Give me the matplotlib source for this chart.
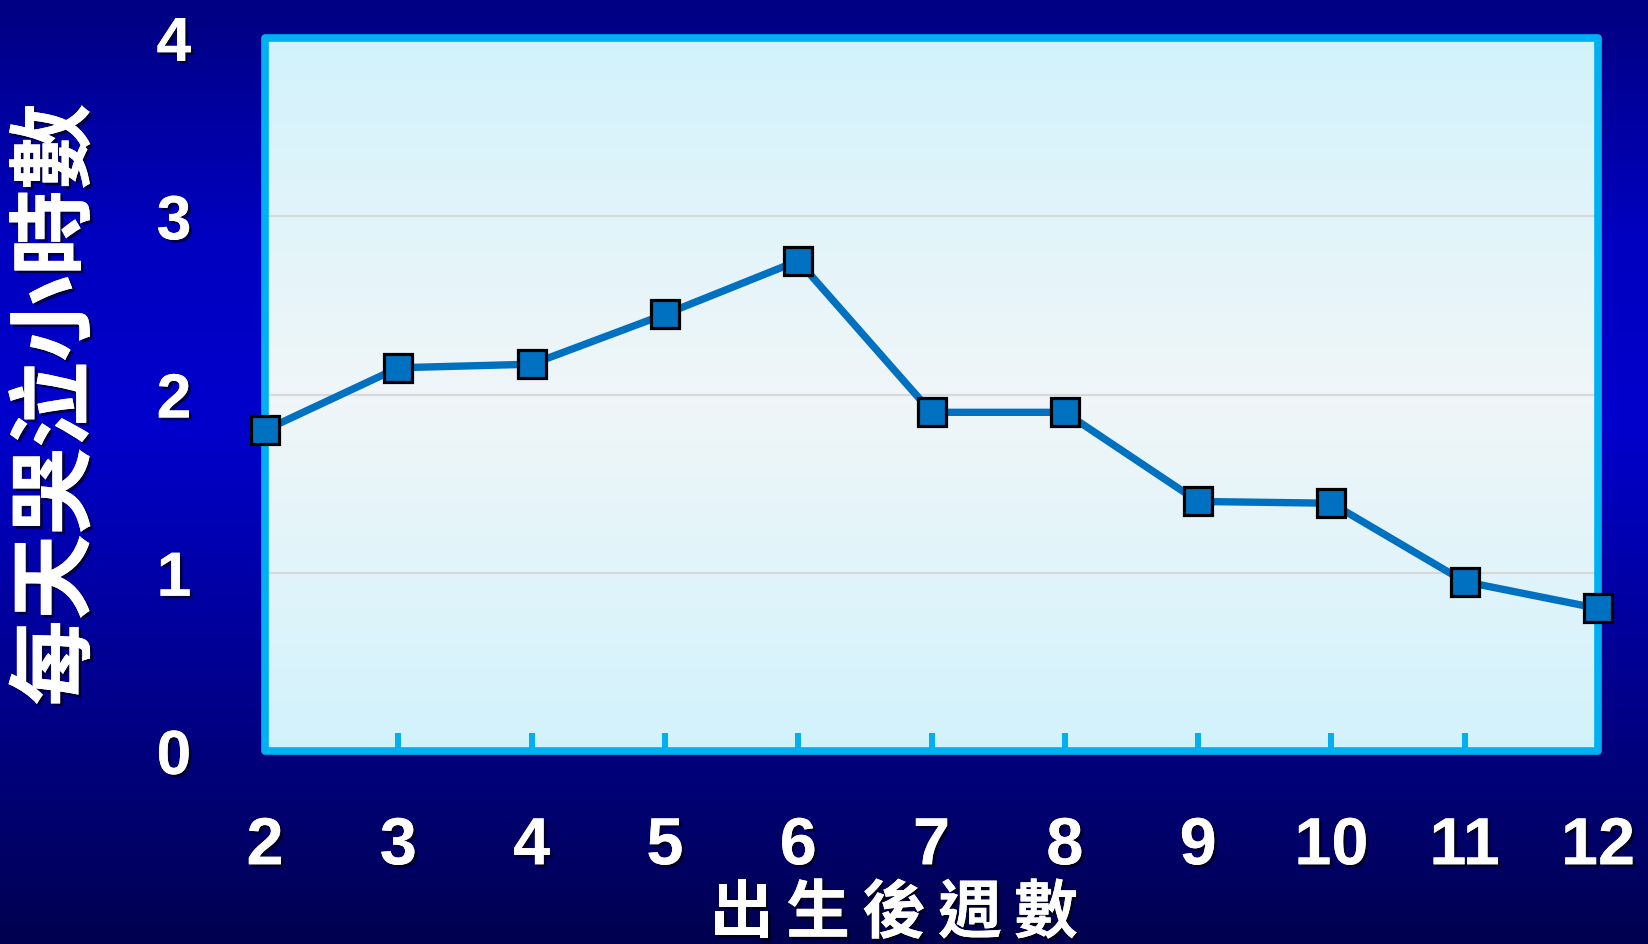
import numpy as np
import matplotlib
matplotlib.use("Agg")
import matplotlib.pyplot as plt
import matplotlib.patheffects as pe
from matplotlib.colors import LinearSegmentedColormap
from matplotlib.patches import Rectangle

# data
weeks = [2, 3, 4, 5, 6, 7, 8, 9, 10, 11, 12]
cry_hours = [1.8, 2.15, 2.17, 2.45, 2.75, 1.9, 1.9, 1.4, 1.39, 0.95, 0.8]
y_ticks = [0, 1, 2, 3, 4]
x_title = "出生後週數"
y_title = "每天哭泣小時數"

W, H = 1648, 944
fig = plt.figure(figsize=(W / 100, H / 100), dpi=100)

# dark blue page background (vertical gradient)
bg = fig.add_axes([0, 0, 1, 1], zorder=-10)
bg_cmap = LinearSegmentedColormap.from_list(
    "bg", [(0.0, "#000050"), (0.55, "#0000CC"), (0.75, "#0000C0"), (1.0, "#000082")])
bg.imshow(np.linspace(0, 1, 256).reshape(-1, 1), cmap=bg_cmap, aspect="auto",
          origin="lower", extent=[0, 1, 0, 1])
bg.axis("off")

# plot area in pixels: left 265, right 1598, top 38, bottom 751
ax = fig.add_axes([265 / W, 1 - 751 / H, (1598 - 265) / W, (751 - 38) / H])
ax.set_xlim(2, 12)
ax.set_ylim(0, 4)

fill_cmap = LinearSegmentedColormap.from_list(
    "fill", [(0.0, "#D2F2FC"), (0.5, "#F0F6F8"), (1.0, "#D2F2FC")])
ax.imshow(np.linspace(0, 1, 256).reshape(-1, 1), cmap=fill_cmap, aspect="auto",
          origin="lower", extent=[2, 12, 0, 4], zorder=0)

for v in y_ticks[1:-1]:
    ax.axhline(v, color="#D9D9D9", lw=1.6, zorder=1)

for s in ax.spines.values():
    s.set_visible(False)
ax.add_patch(Rectangle((0, 0), 1, 1, transform=ax.transAxes, fill=False,
                       ec="#00B0F0", lw=5.5, joinstyle="round", clip_on=False, zorder=2.5))

ax.plot(weeks, cry_hours, color="#0070C0", lw=5.3, marker="s", ms=20.5,
        mfc="#0070C0", mec="black", mew=2.3, clip_on=False, zorder=4)

shadow = [pe.withSimplePatchShadow(offset=(2, -2), shadow_rgbFace="black", alpha=0.6),
          pe.Normal()]

ax.set_xticks(weeks)
ax.set_xticklabels([str(w) for w in weeks])
ax.set_yticks(y_ticks)
ax.set_yticklabels([str(v) for v in y_ticks])
ax.tick_params(axis="x", direction="in", length=13, width=4.3, color="#00B0F0",
               pad=47, labelsize=48, labelcolor="white")
ax.tick_params(axis="y", length=0, pad=53, labelsize=45, labelcolor="white")
for lab in ax.get_xticklabels() + ax.get_yticklabels():
    lab.set_fontfamily("Liberation Sans")
    lab.set_fontweight("bold")
    lab.set_path_effects(shadow)

cjk = ["Noto Sans CJK TC", "DejaVu Sans"]
fig.text(57 / W, 1 - 405 / H, y_title, rotation=90, ha="center", va="center",
         fontsize=62, fontweight="bold", color="white", family=cjk, path_effects=shadow)

for i, ch in enumerate(x_title):
    fig.text((742 + 76 * i) / W, 1 - 914 / H, ch, ha="center", va="center",
             fontsize=46, fontweight="bold", color="white", family=cjk, path_effects=shadow)

fig.savefig("out.png", dpi=100, facecolor="#000080")
